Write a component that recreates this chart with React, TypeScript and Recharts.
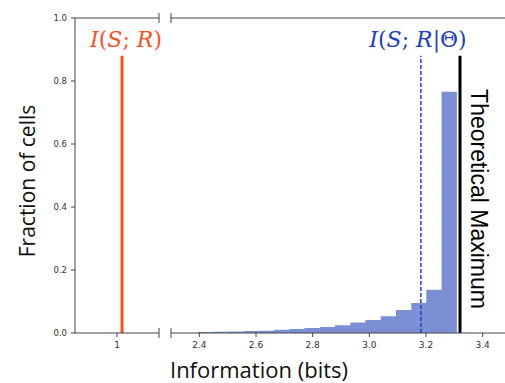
import React from "react";
import {
  ComposedChart,
  Area,
  Line,
  XAxis,
  YAxis,
  ReferenceLine,
} from "recharts";

// y axis (fraction of cells)
const yTicks = [0, 0.2, 0.4, 0.6, 0.8, 1.0];

// left panel of the broken x axis
const leftTicks = [1];
const infoSR = 1.018; // I(S;R)

// right panel
const rightTicks = [2.4, 2.6, 2.8, 3.0, 3.2, 3.4];
const infoSRTheta = 3.182; // I(S;R|Θ)
const theoreticalMax = 3.32;
const lineTop = 0.88;

// histogram bin edges (bits) and fraction of cells per bin
const binEdges = [
  2.395, 2.449, 2.503, 2.556, 2.61, 2.664, 2.718, 2.771, 2.825, 2.879, 2.933,
  2.986, 3.04, 3.094, 3.148, 3.201, 3.255, 3.309,
];
const binFractions = [
  0.003, 0.004, 0.005, 0.006, 0.007, 0.01, 0.013, 0.016, 0.019, 0.025, 0.033,
  0.041, 0.053, 0.073, 0.095, 0.137, 0.766,
];

const RED = "#ff4f1f";
const BLUE = "#2240c4";
const BAR = "#7b8fd4";
const AXIS = "#444";

// step-after area: every edge carries the height of the bin it opens,
// last edge repeats the final bin so the area closes at its right side
const histData = binEdges.map((x, i) => ({
  x,
  frac: binFractions[Math.min(i, binFractions.length - 1)],
}));

const redLine = [
  { x: infoSR, y: 0 },
  { x: infoSR, y: lineTop },
];
const blueLine = [
  { x: infoSRTheta, y: 0 },
  { x: infoSRTheta, y: lineTop },
];
const maxLine = [
  { x: theoreticalMax, y: 0 },
  { x: theoreticalMax, y: lineTop },
];

const tickStyle = { fontFamily: "DejaVu Sans", fontSize: 9, fill: "#333" };
const brk = 0.016;

export default function App() {
  return (
    <div
      style={{
        position: "absolute",
        left: 0,
        top: 0,
        width: 505,
        height: 383,
        overflow: "hidden",
        background: "#fff",
      }}
    >
      {/* left panel */}
      <div style={{ position: "absolute", left: 0, top: 0 }}>
        <ComposedChart
          width={170}
          height={383}
          data={redLine}
          margin={{ top: 18, right: 11, bottom: 20, left: 35 }}
        >
          <XAxis
            dataKey="x"
            type="number"
            domain={[0.85, 1.15]}
            allowDataOverflow
            ticks={leftTicks}
            tickFormatter={(v) => String(v)}
            tick={tickStyle}
            tickSize={4}
            tickMargin={5}
            stroke={AXIS}
            height={30}
          />
          <YAxis
            type="number"
            domain={[0, 1]}
            ticks={yTicks}
            tickFormatter={(v) => v.toFixed(1)}
            tick={{ ...tickStyle, fontSize: 8.5 }}
            tickSize={4}
            tickMargin={4}
            stroke={AXIS}
            width={40}
          />
          <ReferenceLine y={1} stroke={AXIS} />
          <ReferenceLine
            segment={[
              { x: 1.15, y: 1 - brk },
              { x: 1.15, y: 1 + brk },
            ]}
            stroke={AXIS}
            ifOverflow="visible"
          />
          <ReferenceLine
            segment={[
              { x: 1.15, y: -brk },
              { x: 1.15, y: brk },
            ]}
            stroke={AXIS}
            ifOverflow="visible"
          />
          <Line
            dataKey="y"
            stroke={RED}
            strokeWidth={3}
            dot={false}
            isAnimationActive={false}
          />
        </ComposedChart>
      </div>

      {/* right panel */}
      <div style={{ position: "absolute", left: 0, top: 0 }}>
        <ComposedChart
          width={520}
          height={383}
          data={histData}
          margin={{ top: 18, right: 9, bottom: 20, left: 171 }}
        >
          <XAxis
            dataKey="x"
            type="number"
            domain={[2.3, 3.5]}
            allowDataOverflow
            ticks={rightTicks}
            tickFormatter={(v) => v.toFixed(1)}
            tick={tickStyle}
            tickSize={4}
            tickMargin={5}
            stroke={AXIS}
            height={30}
          />
          <YAxis type="number" domain={[0, 1]} hide />
          <ReferenceLine y={1} stroke={AXIS} />
          <ReferenceLine
            segment={[
              { x: 2.3, y: 1 - brk },
              { x: 2.3, y: 1 + brk },
            ]}
            stroke={AXIS}
            ifOverflow="visible"
          />
          <ReferenceLine
            segment={[
              { x: 2.3, y: -brk },
              { x: 2.3, y: brk },
            ]}
            stroke={AXIS}
            ifOverflow="visible"
          />
          <Area
            dataKey="frac"
            type="stepAfter"
            stroke="none"
            fill={BAR}
            fillOpacity={1}
            isAnimationActive={false}
          />
          <Line
            data={blueLine}
            dataKey="y"
            stroke={BLUE}
            strokeWidth={1.5}
            strokeDasharray="4 2"
            dot={false}
            isAnimationActive={false}
          />
          <Line
            data={maxLine}
            dataKey="y"
            stroke="#000"
            strokeWidth={3}
            dot={false}
            isAnimationActive={false}
          />
        </ComposedChart>
      </div>

      {/* labels */}
      <svg
        width={505}
        height={383}
        style={{ position: "absolute", left: 0, top: 0, pointerEvents: "none" }}
      >
        <text
          x={27}
          y={181}
          transform="rotate(-90 27 181)"
          textAnchor="middle"
          dominantBaseline="central"
          fontFamily="Open Sans"
          fontSize={21}
          fill="#111"
        >
          Fraction of cells
        </text>
        <text
          x={259}
          y={378}
          textAnchor="middle"
          fontFamily="Open Sans"
          fontSize={22}
          fill="#111"
        >
          Information (bits)
        </text>
        <text
          x={479}
          y={199}
          transform="rotate(90 479 199)"
          textAnchor="middle"
          dominantBaseline="central"
          fontFamily="Liberation Sans"
          fontSize={23}
          fill="#000"
        >
          Theoretical Maximum
        </text>
        <text
          x={126}
          y={47}
          textAnchor="middle"
          fontFamily="DejaVu Serif"
          fontSize={22}
          fill={RED}
        >
          <tspan fontStyle="italic">I</tspan>(<tspan fontStyle="italic">S</tspan>;{" "}
          <tspan fontStyle="italic">R</tspan>)
        </text>
        <text
          x={418}
          y={47}
          textAnchor="middle"
          fontFamily="DejaVu Serif"
          fontSize={22}
          fill={BLUE}
        >
          <tspan fontStyle="italic">I</tspan>(<tspan fontStyle="italic">S</tspan>;{" "}
          <tspan fontStyle="italic">R</tspan>|Θ)
        </text>
      </svg>
    </div>
  );
}
